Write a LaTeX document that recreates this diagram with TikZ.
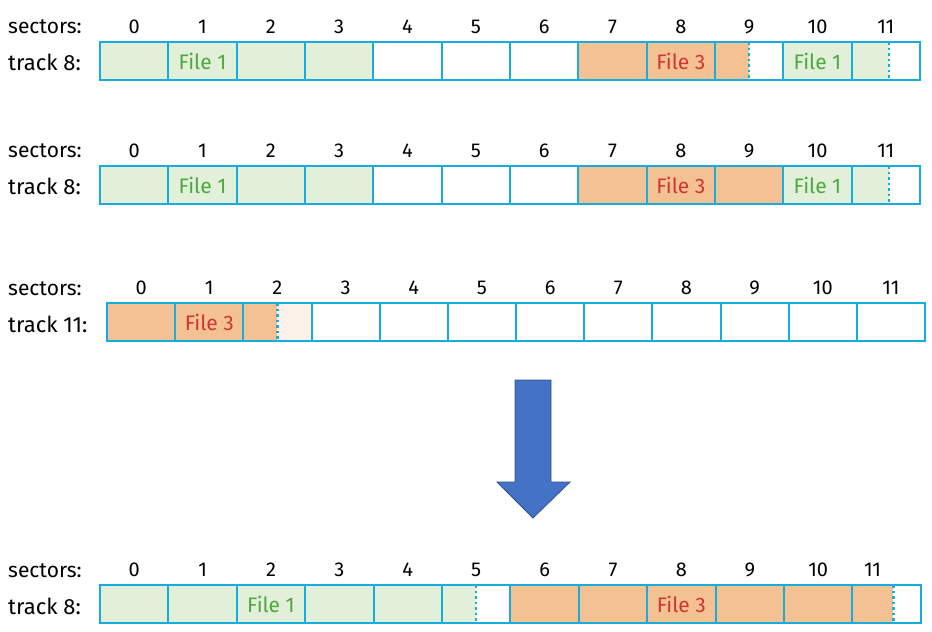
\documentclass[tikz,border=0pt]{standalone}
\usepackage{fontspec}
\setmainfont{Fira Sans}
\usetikzlibrary{positioning, backgrounds}
\definecolor{TrackBlue}{RGB}{22,172,222}
\definecolor{FileGreen}{RGB}{226,239,217}
\definecolor{FileOrange}{RGB}{244,194,146}
\definecolor{PaleOrange}{RGB}{253,242,233}
\definecolor{GreenText}{RGB}{76,168,64}
\definecolor{RedText}{RGB}{208,52,52}
\definecolor{ArrowBlue}{RGB}{68,114,196}
\definecolor{ArrowEdge}{RGB}{47,82,143}

\tikzset{
  cell/.style={draw=TrackBlue, line width=2pt, minimum width=68.3pt, minimum height=38pt,
    inner sep=0pt, outer sep=0pt},
  num/.style={inner sep=0pt, font=\fontsize{20}{24}\selectfont},
  lbl/.style={inner sep=0pt, anchor=base west, font=\fontsize{21}{24}\selectfont},
  tlbl/.style={inner sep=0pt, anchor=base west, font=\fontsize{22}{26}\selectfont},
  dots/.style={TrackBlue, line width=2.2pt, dash pattern=on 2.5pt off 3pt},
  one/.style={text=GreenText, font=\fontsize{21}{24}\selectfont},
  three/.style={text=RedText, font=\fontsize{21}{24}\selectfont}
}

\begin{document}
\begin{tikzpicture}[x=1pt, y=-1pt]
\useasboundingbox (0,0) rectangle (932,632);

% track 8, before
\node[lbl] (sa) at (8,33) {sectors:};
\node[tlbl] (ta) at (8,70) {track 8:};
\foreach \i/\c in {0/FileGreen,1/FileGreen,2/FileGreen,3/FileGreen,4/white,5/white,6/white,
    7/FileOrange,8/FileOrange,9/white,10/FileGreen,11/white}{
    \node[cell] (a\i) at ({134.2+68.33*\i},61) {};
    \begin{scope}[on background layer]
      \fill[\c] (a\i.north west) rectangle (a\i.south east);
    \end{scope}
    \node[num, above=8pt of a\i] (na\i) {\i};
}
\node[one] at (a1) {File 1};
\node[three] at (a8) {File 3};
\node[one] at (a10) {File 1};
\begin{scope}[on background layer]
  \fill[FileOrange] (a9.north west) rectangle (a9.south);
  \fill[FileGreen] (a11.north west) rectangle ([xshift=3pt]a11.south);
\end{scope}
\draw[dots] (a9.north) -- (a9.south);
\draw[dots] ([xshift=3pt]a11.north) -- ([xshift=3pt]a11.south);

% track 8, file 3 grown
\node[lbl] (sb) at (8,157) {sectors:};
\node[tlbl] (tb) at (8,194) {track 8:};
\foreach \i/\c in {0/FileGreen,1/FileGreen,2/FileGreen,3/FileGreen,4/white,5/white,6/white,
    7/FileOrange,8/FileOrange,9/FileOrange,10/FileGreen,11/white}{
    \node[cell] (b\i) at ({134.2+68.33*\i},185) {};
    \begin{scope}[on background layer]
      \fill[\c] (b\i.north west) rectangle (b\i.south east);
    \end{scope}
    \node[num, above=8pt of b\i] (nb\i) {\i};
}
\node[one] at (b1) {File 1};
\node[three] at (b8) {File 3};
\node[one] at (b10) {File 1};
\begin{scope}[on background layer]
  \fill[FileGreen] (b11.north west) rectangle ([xshift=3pt]b11.south);
\end{scope}
\draw[dots] ([xshift=3pt]b11.north) -- ([xshift=3pt]b11.south);

% track 11
\node[lbl] (sc) at (8,295) {sectors:};
\node[tlbl] (tc) at (8,332) {track 11:};
\foreach \i/\c in {0/FileOrange,1/FileOrange,2/PaleOrange,3/white,4/white,5/white,6/white,
    7/white,8/white,9/white,10/white,11/white}{
    \node[cell, minimum width=68.2pt] (c\i) at ({141.1+68.17*\i},322) {};
    \begin{scope}[on background layer]
      \fill[\c] (c\i.north west) rectangle (c\i.south east);
    \end{scope}
    \node[num, above=8pt of c\i] (nc\i) {\i};
}
\node[three] at (c1) {File 3};
\begin{scope}[on background layer]
  \fill[FileOrange] (c2.north west) rectangle (c2.south);
\end{scope}
\draw[dots] (c2.north) -- (c2.south);

% arrow
\filldraw[fill=ArrowBlue, draw=ArrowEdge, line width=0.8pt]
  (515,380) -- (551,380) -- (551,482) -- (570,482) -- (533,518) -- (497,482) -- (515,482) -- cycle;

% track 8, after
\node[lbl] (sd) at (8,577) {sectors:};
\node[tlbl] (td) at (8,614) {track 8:};
\foreach \i/\c in {0/FileGreen,1/FileGreen,2/FileGreen,3/FileGreen,4/FileGreen,5/white,
    6/FileOrange,7/FileOrange,8/FileOrange,9/FileOrange,10/FileOrange,11/white}{
    \node[cell, minimum width=68.4pt] (d\i) at ({134.2+68.4*\i},604) {};
    \begin{scope}[on background layer]
      \fill[\c] (d\i.north west) rectangle (d\i.south east);
    \end{scope}
}
\foreach \i in {0,...,10}{
    \node[num, above=8pt of d\i] (nd\i) {\i};
}
\node[num, above=8pt of d11, xshift=-14pt] (nd11) {11};
\node[one] at (d2) {File 1};
\node[three] at (d8) {File 3};
\begin{scope}[on background layer]
  \fill[FileGreen] (d5.north west) rectangle (d5.south);
  \fill[FileOrange] (d11.north west) rectangle ([xshift=41pt]d11.south west);
\end{scope}
\draw[dots] (d5.north) -- (d5.south);
\draw[dots] ([xshift=41pt]d11.north west) -- ([xshift=41pt]d11.south west);

\end{tikzpicture}
\end{document}
